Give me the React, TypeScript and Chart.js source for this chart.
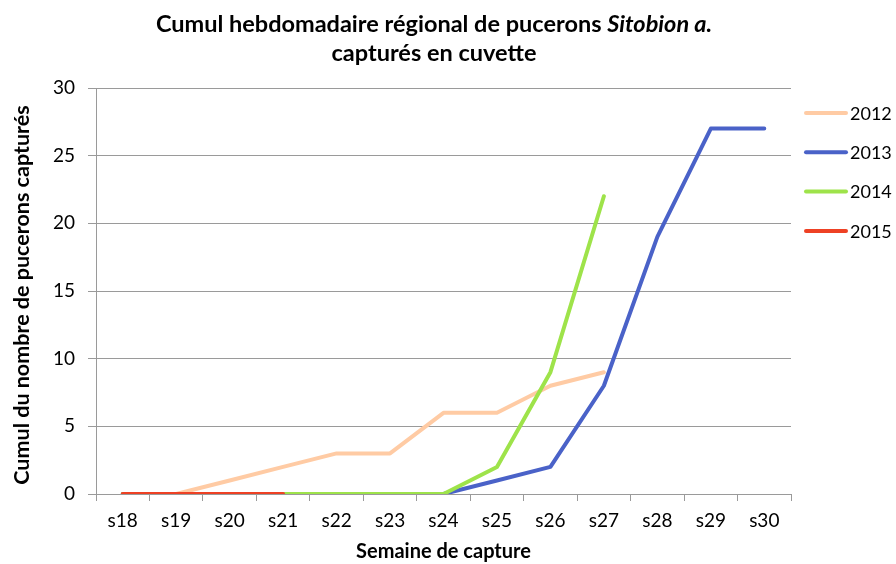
import React, { useEffect, useRef } from "react";
import { Chart, registerables } from "chart.js";

Chart.register(...registerables);

const weeks = ["s18", "s19", "s20", "s21", "s22", "s23", "s24", "s25", "s26", "s27", "s28", "s29", "s30"];
const y2012 = [0, 0, 1, 2, 3, 3, 6, 6, 8, 9, null, null, null];
const y2013 = [0, 0, 0, 0, 0, 0, 0, 1, 2, 8, 19, 27, 27];
const y2014 = [0, 0, 0, 0, 0, 0, 0, 2, 9, 22, null, null, null];
const y2015 = [0, 0, 0, 0, null, null, null, null, null, null, null, null, null];
const seriesNames = ["2012", "2013", "2014", "2015"];
const seriesColors = ["#FFCBA4", "#4A62C8", "#9EE34A", "#EE4124"];
const yTicks = [0, 5, 10, 15, 20, 25, 30];

const FONT = "Lato, 'Open Sans', sans-serif";

const textPlugin = {
  id: "texts",
  afterDraw(chart: any) {
    const ctx = chart.ctx as CanvasRenderingContext2D;
    const area = chart.chartArea;
    ctx.save();
    ctx.fillStyle = "#000";
    ctx.textBaseline = "middle";
    const cx = 434;
    const p1 = "Cumul hebdomadaire régional de pucerons ";
    const p2 = "Sitobion a.";
    const fb = `bold 23.5px ${FONT}`;
    const fi = `italic bold 23.5px ${FONT}`;
    ctx.font = fb;
    const w1 = ctx.measureText(p1).width;
    ctx.font = fi;
    const w2 = ctx.measureText(p2).width;
    const x = cx - (w1 + w2) / 2;
    ctx.textAlign = "left";
    ctx.font = fb;
    ctx.fillText(p1, x, 24);
    ctx.font = fi;
    ctx.fillText(p2, x + w1, 24);
    ctx.font = fb;
    ctx.textAlign = "center";
    ctx.fillText("capturés en cuvette", cx, 53);

    ctx.font = `bold 20px ${FONT}`;
    ctx.fillText("Semaine de capture", (area.left + area.right) / 2, 552);
    ctx.font = `bold 21.5px ${FONT}`;
    ctx.save();
    ctx.translate(22, (area.top + area.bottom) / 2 + 4);
    ctx.rotate(-Math.PI / 2);
    ctx.fillText("Cumul du nombre de pucerons capturés", 0, 0);
    ctx.restore();

    ctx.font = `18px ${FONT}`;
    ctx.textAlign = "left";
    seriesNames.forEach((n, i) => {
      const yy = 113 + i * 39.3;
      ctx.strokeStyle = seriesColors[i];
      ctx.lineWidth = 4;
      ctx.lineCap = "round";
      ctx.beginPath();
      ctx.moveTo(806, yy);
      ctx.lineTo(846, yy);
      ctx.stroke();
      ctx.fillText(n, 850, yy + 1);
    });
    ctx.restore();
  },
};

export default function App() {
  const ref = useRef<HTMLCanvasElement>(null);
  useEffect(() => {
    document.body.style.margin = "0";
    const mk = (label: string, data: any[], color: string, order: number) => ({
      label,
      data,
      borderColor: color,
      backgroundColor: color,
      borderWidth: 4,
      pointRadius: 0,
      borderCapStyle: "round",
      borderJoinStyle: "round",
      tension: 0,
      spanGaps: false,
      order,
    });
    const chart = new Chart(ref.current!, {
      type: "line",
      data: {
        labels: weeks,
        datasets: [
          mk(seriesNames[0], y2012, seriesColors[0], 4),
          mk(seriesNames[1], y2013, seriesColors[1], 3),
          mk(seriesNames[2], y2014, seriesColors[2], 2),
          mk(seriesNames[3], y2015, seriesColors[3], 1),
        ] as any,
      },
      options: {
        animation: false,
        responsive: false,
        devicePixelRatio: 1,
        layout: { padding: { top: 88, right: 105, left: 0, bottom: 0 } },
        plugins: { legend: { display: false }, title: { display: false }, tooltip: { enabled: false } },
        scales: {
          x: {
            type: "category",
            offset: true,
            grid: {
              display: true,
              drawOnChartArea: false,
              drawTicks: true,
              tickLength: 7,
              color: "#9a9a9a",
              offset: true,
            },
            border: { display: true, color: "#9a9a9a", width: 1 },
            ticks: { color: "#000", font: { family: FONT, size: 19 }, padding: 8, maxRotation: 0, autoSkip: false },
            afterFit: (s: any) => { s.height = 70; },
          },
          y: {
            min: 0,
            max: 30,
            afterBuildTicks: (s: any) => { s.ticks = yTicks.map((v) => ({ value: v })); },
            grid: { color: "#9a9a9a", lineWidth: 1, tickLength: 8, drawTicks: true },
            border: { display: true, color: "#9a9a9a", width: 1 },
            ticks: { color: "#000", font: { family: FONT, size: 19 }, padding: 13 },
            afterFit: (s: any) => { s.width = 96; },
          },
        },
      },
      plugins: [textPlugin],
    } as any);
    return () => chart.destroy();
  }, []);
  return (
    <div style={{ position: "absolute", left: 0, top: 0, width: 896, height: 564, background: "#fff" }}>
      <canvas ref={ref} width={896} height={564} style={{ display: "block", width: 896, height: 564 }} />
    </div>
  );
}
